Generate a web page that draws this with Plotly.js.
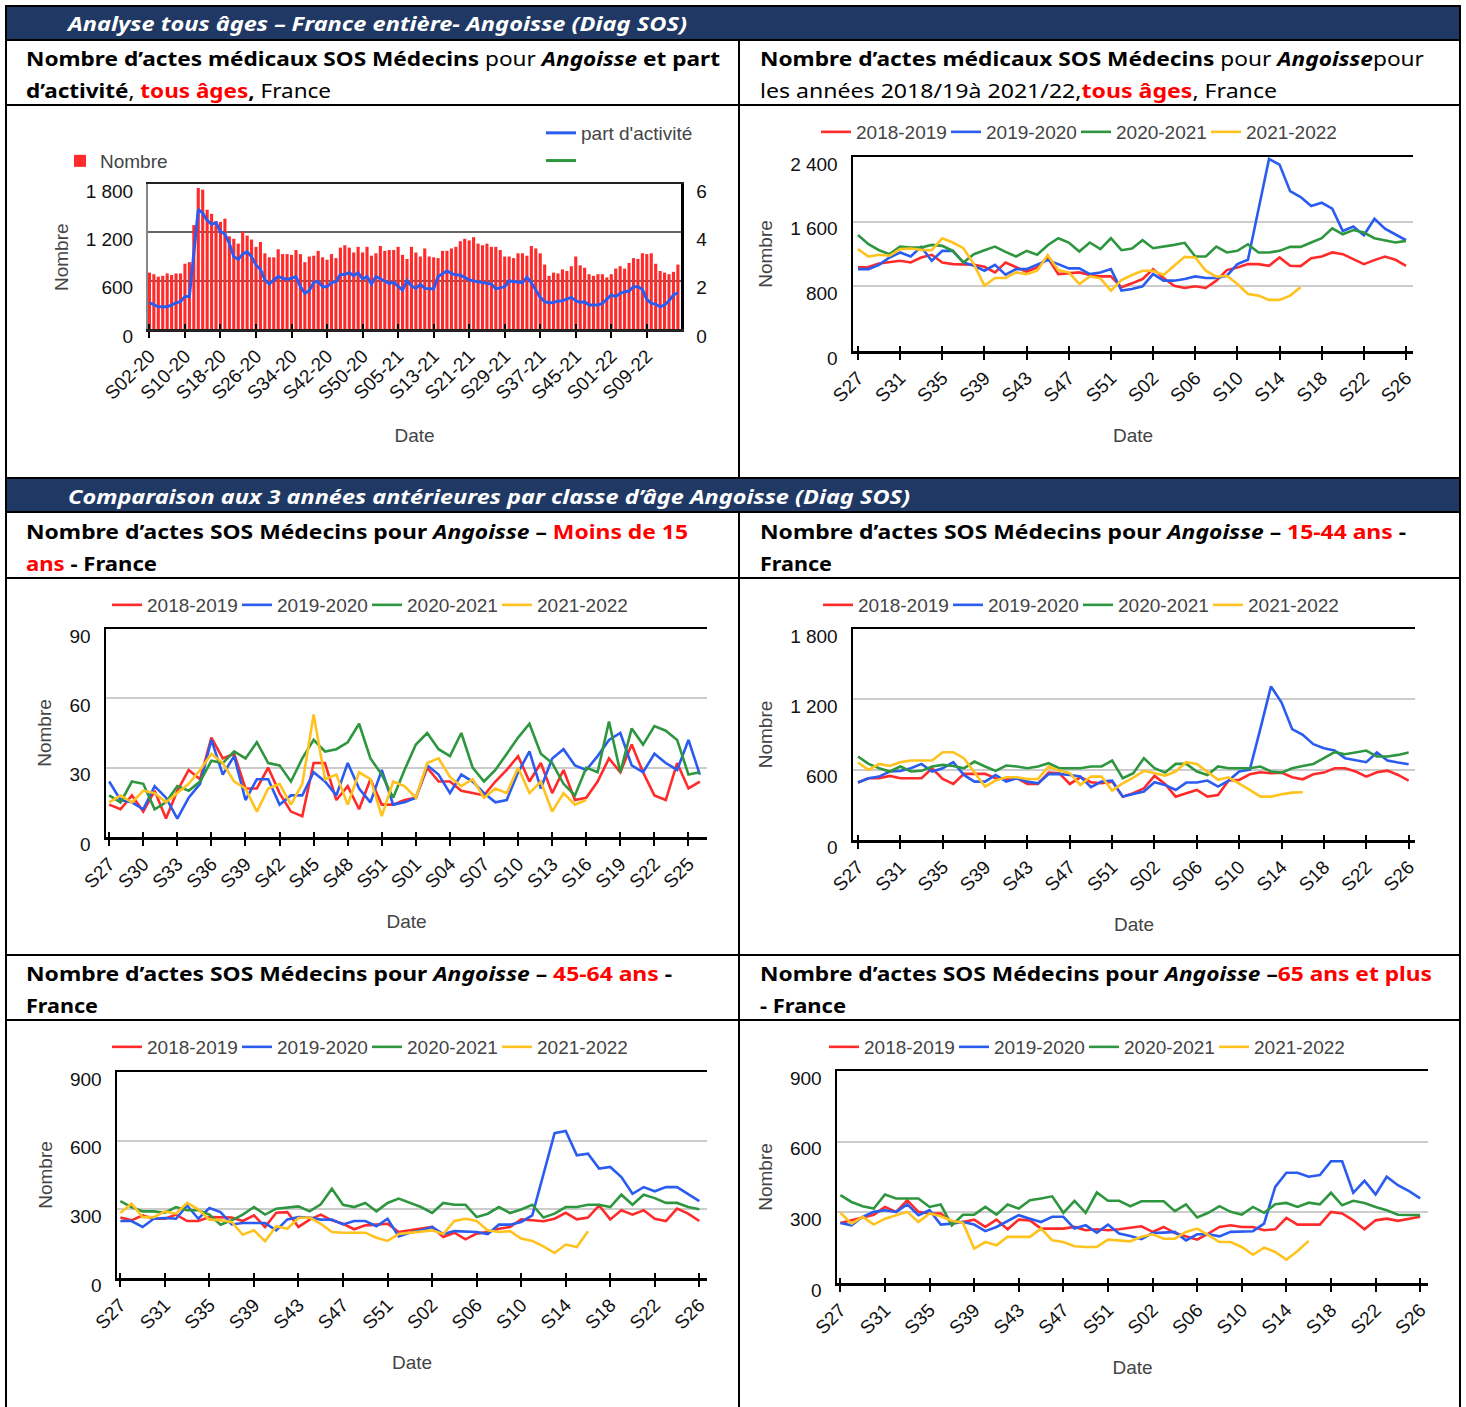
<!DOCTYPE html>
<html><head><meta charset="utf-8">
<script src="https://cdn.plot.ly/plotly-3.0.1.min.js"></script>
<style>
html,body{margin:0;padding:0;background:#fff;}
#page{position:relative;width:1466px;height:1407px;overflow:hidden;font-family:"Noto Sans",sans-serif;background:#fff;}
.hbar{position:absolute;left:6px;width:1454px;background:#1f3864;}
.ln{position:absolute;background:#000;}
.t{position:absolute;white-space:nowrap;font-size:20px;color:#000;transform-origin:0 50%;line-height:1.25;}
.h{color:#fff;font-weight:bold;font-style:italic;}
.r{color:#ff0000;}
.chart{position:absolute;}
</style></head>
<body><div id="page">
<div class="hbar" style="top:6px;height:34px;"></div>
<div class="hbar" style="top:478px;height:34px;"></div>
<div class="ln" style="left:5px;top:5px;width:2px;height:1402px;"></div>
<div class="ln" style="left:1459px;top:5px;width:2px;height:1402px;"></div>
<div class="ln" style="left:5px;top:5px;width:1456px;height:2px;"></div>
<div class="ln" style="left:5px;top:39px;width:1456px;height:2px;"></div>
<div class="ln" style="left:5px;top:104px;width:1456px;height:2px;"></div>
<div class="ln" style="left:5px;top:477px;width:1456px;height:2px;"></div>
<div class="ln" style="left:5px;top:511px;width:1456px;height:2px;"></div>
<div class="ln" style="left:5px;top:577px;width:1456px;height:2px;"></div>
<div class="ln" style="left:5px;top:954px;width:1456px;height:2px;"></div>
<div class="ln" style="left:5px;top:1019px;width:1456px;height:2px;"></div>
<div class="ln" style="left:738px;top:40px;width:2px;height:438px;"></div>
<div class="ln" style="left:738px;top:512px;width:2px;height:895px;"></div>

<div class="t h" data-x="68" data-y="23" data-w="619">Analyse tous âges – France entière- Angoisse (Diag SOS)</div>
<div class="t h" data-x="68" data-y="496" data-w="842">Comparaison aux 3 années antérieures par classe d’âge Angoisse (Diag SOS)</div>

<div class="t" data-x="26" data-y="58" data-w="694"><b>Nombre d’actes médicaux SOS Médecins</b> pour <b><i>Angoisse</i> et part</b></div>
<div class="t" data-x="26" data-y="90" data-w="305"><b>d’activité</b>, <b class="r">tous âges</b><b>,</b> France</div>
<div class="t" data-x="760" data-y="58" data-w="664"><b>Nombre d’actes médicaux SOS Médecins</b> pour <b><i>Angoisse</i></b>pour</div>
<div class="t" data-x="760" data-y="90" data-w="517">les années 2018/19à 2021/22,<b class="r">tous âges</b>, France</div>

<div class="t" data-x="26" data-y="531" data-w="662"><b>Nombre d’actes SOS Médecins pour <i>Angoisse</i> – <span class="r">Moins de 15</span></b></div>
<div class="t" data-x="26" data-y="563" data-w="131"><b><span class="r">ans</span> - France</b></div>
<div class="t" data-x="760" data-y="531" data-w="646"><b>Nombre d’actes SOS Médecins pour <i>Angoisse</i> – <span class="r">15-44 ans</span> -</b></div>
<div class="t" data-x="760" data-y="563" data-w="72"><b>France</b></div>
<div class="t" data-x="26" data-y="973" data-w="646"><b>Nombre d’actes SOS Médecins pour <i>Angoisse</i> – <span class="r">45-64 ans</span> -</b></div>
<div class="t" data-x="26" data-y="1005" data-w="72"><b>France</b></div>
<div class="t" data-x="760" data-y="973" data-w="672"><b>Nombre d’actes SOS Médecins pour <i>Angoisse</i> –<span class="r">65 ans et plus</span></b></div>
<div class="t" data-x="760" data-y="1005" data-w="86"><b>- France</b></div>

<div id="c1" class="chart"></div>
<div id="c2" class="chart"></div>
<div id="c3" class="chart"></div>
<div id="c4" class="chart"></div>
<div id="c5" class="chart"></div>
<div id="c6" class="chart"></div>
</div>
<script>
// ---------- DATA ----------
const weeks120 = [
'S02-20','S03-20','S04-20','S05-20','S06-20','S07-20','S08-20','S09-20','S10-20','S11-20','S12-20','S13-20','S14-20','S15-20','S16-20','S17-20','S18-20','S19-20','S20-20','S21-20','S22-20','S23-20','S24-20','S25-20','S26-20','S27-20','S28-20','S29-20','S30-20','S31-20','S32-20','S33-20','S34-20','S35-20','S36-20','S37-20','S38-20','S39-20','S40-20','S41-20','S42-20','S43-20','S44-20','S45-20','S46-20','S47-20','S48-20','S49-20','S50-20','S51-20','S52-20','S53-20',
'S01-21','S02-21','S03-21','S04-21','S05-21','S06-21','S07-21','S08-21','S09-21','S10-21','S11-21','S12-21','S13-21','S14-21','S15-21','S16-21','S17-21','S18-21','S19-21','S20-21','S21-21','S22-21','S23-21','S24-21','S25-21','S26-21','S27-21','S28-21','S29-21','S30-21','S31-21','S32-21','S33-21','S34-21','S35-21','S36-21','S37-21','S38-21','S39-21','S40-21','S41-21','S42-21','S43-21','S44-21','S45-21','S46-21','S47-21','S48-21','S49-21','S50-21','S51-21','S52-21',
'S01-22','S02-22','S03-22','S04-22','S05-22','S06-22','S07-22','S08-22','S09-22','S10-22','S11-22','S12-22','S13-22','S14-22','S15-22','S16-22'];
const ticks120 = ['S02-20','S10-20','S18-20','S26-20','S34-20','S42-20','S50-20','S05-21','S13-21','S21-21','S29-21','S37-21','S45-21','S01-22','S09-22'];
const nombreTous = [
700,680,650,660,690,670,690,690,810,830,
1290,1750,1730,1480,1430,1340,1330,1370,1150,1120,
1060,1210,1160,1110,1020,1080,940,890,890,990,
930,930,920,980,930,830,900,910,970,890,
860,930,880,1010,1040,1010,950,1020,950,1020,
910,940,1030,970,980,980,1020,920,870,1020,
950,900,1000,900,890,880,970,970,1000,1020,
1090,1120,1100,1140,1060,1040,1060,1020,1020,980,
900,900,880,940,940,910,1030,1000,940,800,
660,700,690,740,720,780,900,790,760,680,
660,680,680,640,680,750,780,750,820,880,
870,940,930,940,810,720,700,680,710,800];
const partActivite = [
1.09,0.99,0.92,0.92,0.92,0.99,1.09,1.13,1.34,1.34,
3.2,4.95,4.79,4.5,4.33,4.4,4.03,3.93,3.54,2.99,
2.88,3.1,3.2,2.99,2.65,2.47,2.03,1.86,2.03,2.17,
2.1,2.06,2.1,2.17,1.75,1.48,1.59,1.93,1.96,1.75,
1.75,1.92,1.96,2.26,2.26,2.33,2.21,2.33,2.07,2.17,
1.86,2.17,2.08,2.0,1.89,1.93,1.75,1.61,2.0,1.79,
1.68,1.85,1.68,1.66,1.66,2.17,2.3,2.4,2.3,2.23,
2.23,2.14,2.03,1.99,1.96,1.94,1.89,1.86,1.66,1.72,
1.75,1.99,1.96,1.92,1.92,2.14,1.92,1.61,1.31,1.13,
1.09,1.1,1.16,1.17,1.23,1.31,1.17,1.1,1.13,0.99,
0.99,0.99,1.06,1.23,1.41,1.34,1.48,1.54,1.57,1.75,
1.75,1.64,1.23,1.06,1.03,0.92,0.99,1.17,1.41,1.5];

const seasonWeeks = ['S27','S28','S29','S30','S31','S32','S33','S34','S35','S36','S37','S38','S39','S40','S41','S42','S43','S44','S45','S46','S47','S48','S49','S50','S51','S52','S53',
'S01','S02','S03','S04','S05','S06','S07','S08','S09','S10','S11','S12','S13','S14','S15','S16','S17','S18','S19','S20','S21','S22','S23','S24','S25','S26'];
const ticks4 = ['S27','S31','S35','S39','S43','S47','S51','S02','S06','S10','S14','S18','S22','S26'];
const ticks3 = ['S27','S30','S33','S36','S39','S42','S45','S48','S51','S01','S04','S07','S10','S13','S16','S19','S22','S25'];
const seasons = ['2018-2019','2019-2020','2020-2021','2021-2022'];

// Tous âges
const tous_1819 = [1034,1040,1083,1095,1116,1095,1157,1190,1095,1075,1075,1067,1042,972,1095,1042,980,1034,1157,952,960,972,940,923,923,788,837,890,1013,903,808,780,800,780,870,1001,1034,1075,1075,1054,1157,1054,1050,1149,1169,1219,1198,1137,1075,1124,1169,1128,1054];
const tous_1920 = [1013,1013,1067,1157,1219,1169,1288,1116,1239,1239,1095,1054,993,1067,944,1013,1013,1067,1124,1075,1022,1022,952,972,1013,747,767,800,952,870,870,890,923,903,903,931,1075,1128,1750,2376,2306,1978,1904,1793,1834,1760,1485,1539,1432,1637,1514,1444,1370];
const tous_2021 = [1436,1321,1247,1198,1292,1280,1280,1313,1301,1239,1095,1198,1247,1292,1227,1169,1239,1190,1309,1395,1342,1231,1342,1260,1395,1247,1268,1370,1272,1288,1313,1338,1169,1169,1292,1219,1239,1321,1219,1219,1239,1288,1288,1342,1395,1518,1444,1497,1465,1395,1370,1342,1362];
const tous_2122 = [1260,1169,1190,1178,1260,1268,1251,1247,1395,1342,1272,1075,808,903,903,972,952,993,1186,1001,972,829,923,899,747,878,940,993,993,940,1054,1165,1157,993,919,931,829,706,685,632,632,685,788];

// Moins de 15 ans
const m15_1819 = [14,12,18,11,20,8,20,29,25,43,34,36,21,21,30,19,11,9,32,32,16,22,12,25,14,14,16,17,30,24,24,20,19,18,24,29,35,24,32,19,29,16,17,24,34,28,40,28,18,16,32,21,24];
const m15_1920 = [24,16,15,12,22,17,8,17,23,42,27,35,16,25,25,14,18,18,28,24,18,32,21,15,29,14,15,17,31,27,19,27,24,19,15,16,28,37,21,34,38,31,29,35,42,45,31,28,36,32,29,42,27];
const m15_2021 = [18,15,24,23,12,15,22,20,24,33,32,37,34,41,32,31,24,34,42,37,38,41,49,34,27,17,29,40,45,38,35,45,30,24,29,36,43,49,36,32,23,18,30,28,50,28,47,40,48,46,42,27,28];
const m15_2122 = [15,18,15,20,19,15,19,23,29,36,32,24,21,11,21,23,14,23,53,25,27,14,28,25,9,24,22,17,32,34,26,22,25,17,21,19,30,19,24,11,19,14,16];

// 15-44 ans
const a1544_1819 = [490,527,527,547,527,527,527,612,521,478,564,564,564,527,521,527,478,478,575,570,478,535,493,484,498,370,399,441,547,478,370,399,427,370,384,507,513,561,578,570,575,535,518,561,575,612,612,584,541,578,592,555,507];
const a1544_1920 = [490,527,541,584,590,612,649,584,612,664,555,498,498,555,498,527,498,484,561,564,555,541,450,498,507,370,393,413,493,470,427,490,490,507,456,507,584,600,950,1310,1173,946,897,817,783,763,698,684,664,746,678,661,646];
const a1544_2021 = [712,649,612,584,627,584,590,627,641,632,612,669,627,590,635,627,612,627,655,612,612,612,627,627,678,527,570,698,612,575,649,649,584,555,627,612,612,612,627,584,575,612,632,649,698,749,732,749,763,712,712,726,746];
const a1544_2122 = [661,598,649,632,664,678,678,678,749,749,698,578,456,507,535,535,521,521,627,592,570,470,541,541,421,484,532,590,570,550,584,664,649,578,513,535,484,427,370,370,390,404,407];

// 45-64 ans
const a4564_1819 = [264,252,274,259,259,277,249,249,266,266,264,249,274,223,285,288,223,255,277,252,237,213,230,233,237,201,208,218,223,179,198,169,194,201,215,223,256,252,248,259,285,256,264,317,256,296,277,296,259,249,303,281,249];
const a4564_1920 = [249,249,223,259,262,259,317,259,306,288,234,240,240,240,208,256,266,264,255,255,234,249,249,226,259,182,198,208,223,192,205,204,201,192,233,233,245,274,456,633,642,536,543,478,485,441,368,397,379,397,397,368,336];
const a4564_2021 = [336,310,291,291,285,310,296,296,277,233,252,277,310,277,303,307,313,291,322,390,320,310,328,291,328,347,328,310,284,328,320,320,266,281,310,284,299,320,264,281,310,310,320,320,310,364,320,364,349,328,328,310,300];
const a4564_2122 = [284,325,266,266,291,281,328,300,255,252,245,189,208,160,226,215,262,264,237,201,198,198,198,176,162,192,198,201,208,192,249,259,249,208,201,205,172,162,138,109,146,135,204];

// 65 ans et plus
const a65_1819 = [255,266,276,290,323,302,351,302,295,295,259,259,269,238,269,228,269,266,231,231,231,238,224,228,224,228,235,241,217,238,212,198,184,210,238,245,238,238,224,228,276,248,248,248,302,295,266,228,266,273,264,271,281];
const a65_1920 = [255,245,281,302,309,302,334,288,309,248,252,259,248,220,238,264,288,273,259,281,281,231,245,214,248,210,200,186,212,214,217,181,207,207,198,217,220,220,252,408,468,468,451,458,517,517,383,434,376,451,415,390,359];
const a65_2021 = [373,344,326,316,376,359,359,359,323,333,245,290,290,323,290,333,316,351,359,368,298,349,298,384,349,349,326,347,347,347,305,334,278,298,326,302,290,323,298,334,340,323,341,334,383,330,349,340,323,309,290,290,288];
const a65_2122 = [298,252,281,248,273,288,302,259,295,283,264,255,146,174,160,196,196,196,231,181,174,156,153,153,184,181,177,196,207,188,188,217,231,203,174,174,153,120,150,132,99,136,179];

// ---------- STYLE ----------
const FONT = 'Liberation Sans, Arial, sans-serif';
const seasonColors = ['#ff2b2b','#2b5cf0','#2e963f','#ffc21f'];
const GRAY = '#444';

function fitTitles(){
  document.querySelectorAll('.t').forEach(el=>{
    const r = el.getBoundingClientRect();
    el.style.left = el.dataset.x + 'px';
    el.style.top = (+el.dataset.y - r.height/2) + 'px';
    el.style.transform = 'scaleX(' + (+el.dataset.w / r.width) + ')';
  });
}

function setup(id, box, plot){
  const d = document.getElementById(id);
  d.style.left = box[0]+'px'; d.style.top = box[1]+'px';
  const W = box[2]-box[0], H = box[3]-box[1];
  d.style.width = W+'px'; d.style.height = H+'px';
  return {W, H, margin:{l:plot[0]-box[0], r:box[2]-plot[2], t:plot[1]-box[1], b:box[3]-plot[3], pad:0, autoexpand:false}};
}

function xAxis(cats, ticks, range, standoff){
  return {type:'category', categoryorder:'array', categoryarray:cats, range:range,
    tickmode:'array', tickvals:ticks, ticktext:ticks, tickangle:-45,
    ticks:'outside', ticklen:6, tickwidth:2, tickcolor:'#000',
    showline:true, linecolor:'#000', linewidth:2.5, mirror:true,
    showgrid:false, zeroline:false, fixedrange:true, automargin:false,
    tickfont:{family:FONT, size:19, color:'#111'},
    title:{text:'Date', font:{family:FONT, size:19, color:GRAY}, standoff:standoff}};
}
function xInner(cats, ticks, range){
  return {type:'category', categoryorder:'array', categoryarray:cats, range:range,
    overlaying:'x', anchor:'y', side:'bottom',
    tickmode:'array', tickvals:ticks, ticks:'inside', ticklen:5, tickwidth:2, tickcolor:'#000',
    showticklabels:false, showline:false, showgrid:false, zeroline:false, fixedrange:true};
}
function yAxis(max, step){
  return {range:[0,max], dtick:step, tick0:0, separatethousands:true, ticks:'',
    showline:true, linecolor:'#000', linewidth:2.5, gridcolor:'#cccccc', gridwidth:2, zeroline:false,
    ticklabelshift:7, ticklabelstandoff:9, fixedrange:true, automargin:false,
    tickfont:{family:FONT, size:19, color:'#111'},
    title:{text:'Nombre', font:{family:FONT, size:19, color:GRAY}, standoff:13}};
}

function seasonChart(id, box, plot, xr, yMax, yStep, ticks, legTextX, legY, series){
  const g = setup(id, box, plot);
  const traces = series.map((ys,k)=>({type:'scatter', mode:'lines', name:seasons[k],
    x:seasonWeeks.slice(0, ys.length), y:ys, line:{color:seasonColors[k], width:2.6}, hoverinfo:'skip'}));
  traces.push({type:'scatter', mode:'lines', x:[], y:[], xaxis:'x2', yaxis:'y', showlegend:false, hoverinfo:'skip'});
  const layout = {width:g.W, height:g.H, margin:g.margin, paper_bgcolor:'rgba(0,0,0,0)', plot_bgcolor:'#fff',
    font:{family:FONT, size:19, color:'#222'}, separators:', ', showlegend:true,
    legend:{orientation:'h', xref:'container', yref:'container', xanchor:'left', yanchor:'middle',
      x:(legTextX-40-box[0])/g.W, y:1-(legY-box[1])/g.H, entrywidth:85, entrywidthmode:'pixels',
      font:{family:FONT, size:19, color:GRAY}, bgcolor:'rgba(0,0,0,0)'},
    xaxis:xAxis(seasonWeeks, ticks, xr, 24), xaxis2:xInner(seasonWeeks, ticks, xr),
    yaxis:yAxis(yMax, yStep)};
  Plotly.newPlot(id, traces, layout, {staticPlot:true, displayModeBar:false});
}

function chart1(){
  const box=[8,107,738,477], plot=[148,184,681,329];
  const g = setup('c1', box, plot);
  const xr = [-0.32, 119.7];
  const traces = [
    {type:'bar', name:'Nombre', x:weeks120, y:nombreTous, marker:{color:'#ff2a2a', line:{width:0}}, legend:'legend', hoverinfo:'skip'},
    {type:'scatter', mode:'lines', name:"part d'activité", x:weeks120, y:partActivite, yaxis:'y2', line:{color:'#2b5cf0', width:3}, legend:'legend2', hoverinfo:'skip'},
    {type:'scatter', mode:'lines', name:' ', x:[weeks120[0]], y:[null], yaxis:'y2', line:{color:'#2e963f', width:3}, legend:'legend2', hoverinfo:'skip'},
    {type:'scatter', mode:'lines', x:[], y:[], xaxis:'x2', yaxis:'y', showlegend:false, hoverinfo:'skip'}
  ];
  const ya = yAxis(1800, 600); ya.gridcolor='#666'; ya.linecolor='#888'; ya.linewidth=2;
  ya.title = {text:''};
  const xa = xAxis(weeks120, ticks120, xr, 26); xa.linecolor='#222';
  const layout = {width:g.W, height:g.H, margin:g.margin, paper_bgcolor:'rgba(0,0,0,0)', plot_bgcolor:'#fff',
    font:{family:FONT, size:19, color:'#222'}, separators:', ', bargap:0.3, showlegend:true,
    legend:{xref:'container', yref:'container', xanchor:'left', yanchor:'middle',
      x:(100-40-box[0])/g.W, y:1-(161-box[1])/g.H, font:{family:FONT, size:19, color:GRAY}, bgcolor:'rgba(0,0,0,0)'},
    legend2:{xref:'container', yref:'container', xanchor:'left', yanchor:'top',
      x:(581-40-box[0])/g.W, y:1-(114-box[1])/g.H, font:{family:FONT, size:19, color:GRAY}, bgcolor:'rgba(0,0,0,0)'},
    annotations:[{text:'Nombre', textangle:-90, xref:'paper', yref:'paper', x:(61-plot[0])/(plot[2]-plot[0]), y:(plot[3]-257)/(plot[3]-plot[1]),
      xanchor:'center', yanchor:'middle', showarrow:false, font:{family:FONT, size:19, color:GRAY}}],
    xaxis:xa, xaxis2:xInner(weeks120, ticks120, xr), yaxis:ya,
    yaxis2:{overlaying:'y', side:'right', anchor:'x', range:[0,6], dtick:2, tick0:0, ticks:'', showgrid:false, zeroline:false,
      showline:true, linecolor:'#000', linewidth:2.5, ticklabelshift:7, ticklabelstandoff:9, fixedrange:true, automargin:false,
      tickfont:{family:FONT, size:19, color:'#111'}}};
  Plotly.newPlot('c1', traces, layout, {staticPlot:true, displayModeBar:false});
}

fitTitles();
chart1();
seasonChart('c2', [741,107,1458,477], [853,157,1413,351], [-0.47,52.66], 2400, 800, ticks4, 856, 132, [tous_1819, tous_1920, tous_2021, tous_2122]);
seasonChart('c3', [8,580,738,954], [106,629,707,837], [-0.28,52.63], 90, 30, ticks3, 147, 605, [m15_1819, m15_1920, m15_2021, m15_2122]);
seasonChart('c4', [741,580,1458,954], [853,629,1415,840], [-0.47,52.6], 1800, 600, ticks4, 858, 605, [a1544_1819, a1544_1920, a1544_2021, a1544_2122]);
seasonChart('c5', [8,1022,738,1407], [117,1072,707,1278], [-0.3,52.69], 900, 300, ticks4, 147, 1047, [a4564_1819, a4564_1920, a4564_2021, a4564_2122]);
seasonChart('c6', [741,1022,1458,1407], [837,1071,1428,1283], [-0.3,52.7], 900, 300, ticks4, 864, 1047, [a65_1819, a65_1920, a65_2021, a65_2122]);
</script>
</body></html>
